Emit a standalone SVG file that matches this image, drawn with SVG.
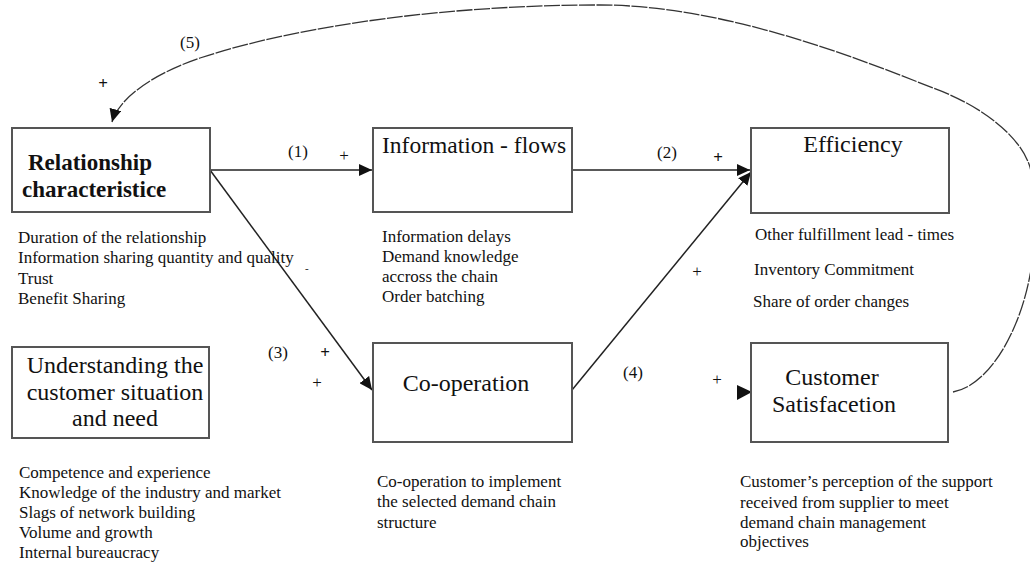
<svg xmlns="http://www.w3.org/2000/svg" width="1030" height="563" viewBox="0 0 1030 563">
<style>
.box{fill:#fff;stroke:#555;stroke-width:2}
.t{font-family:'Liberation Serif','Times New Roman',Times,'DejaVu Serif',serif;fill:#111}
.big{font-size:24px}
.bold{font-weight:bold}
.sm{font-size:17px}
.lbl{font-size:17px}
.edge{fill:none;stroke:#222;stroke-width:1.5}
.curve{fill:none;stroke:#333;stroke-width:1.3;stroke-dasharray:16 1.5}
</style>
<defs>
<marker id="ah" markerUnits="userSpaceOnUse" markerWidth="14" markerHeight="12" refX="13" refY="6" orient="auto">
<path d="M0,0 L13,6 L0,12 z" fill="#111"/>
</marker>
</defs>
<rect width="1030" height="563" fill="#fff"/>

<g id="connectors">
<line class="edge" x1="210" y1="170" x2="372" y2="170" marker-end="url(#ah)"/>
<line class="edge" x1="572" y1="170" x2="750" y2="170" marker-end="url(#ah)"/>
<line class="edge" x1="210" y1="170" x2="372" y2="390" marker-end="url(#ah)"/>
<line class="edge" x1="572" y1="390" x2="751" y2="172" marker-end="url(#ah)"/>
<polygon points="737,385 752,392 737,400" fill="#111"/>
<path class="curve" d="M953,392 C990,385 1020,330 1030,275 C1038,240 1038,200 1030,167 C1020,135 980,105 933,88 C850,55 720,5 600,5 C450,5 300,25 200,58 C150,75 118,100 112,122" marker-end="url(#ah)"/>
<text class="t lbl" x="180" y="48">(5)</text>
<text class="t lbl bold" x="103" y="89" text-anchor="middle">+</text>
<text class="t lbl" x="288" y="157">(1)</text>
<text class="t lbl" x="344" y="161" text-anchor="middle">+</text>
<text class="t lbl" x="657" y="158">(2)</text>
<text class="t lbl bold" x="718" y="163" text-anchor="middle">+</text>
<text class="t lbl" x="697" y="277" text-anchor="middle">+</text>
<text class="t lbl" x="268" y="358">(3)</text>
<text class="t lbl bold" x="325" y="358" text-anchor="middle">+</text>
<text class="t lbl" x="317" y="388" text-anchor="middle">+</text>
<text class="t lbl" x="623" y="378">(4)</text>
<text class="t lbl" x="717" y="385" text-anchor="middle">+</text>
</g>

<g id="relationship">
<rect class="box" x="12" y="128" width="198" height="84"/>
<text class="t bold" font-size="23" x="28" y="170">Relationship</text>
<text class="t bold" font-size="23" x="22" y="197">characteristice</text>
<text class="t sm" x="18" y="243">Duration of the relationship</text>
<text class="t sm" x="18" y="263">Information sharing quantity and quality</text>
<text class="t" font-size="11" x="305" y="272">-</text>
<text class="t sm" x="18" y="284">Trust</text>
<text class="t sm" x="18" y="304">Benefit Sharing</text>
</g>

<g id="information">
<rect class="box" x="373" y="128" width="199" height="84"/>
<text class="t" font-size="23.5" x="382" y="153">Information - flows</text>
<text class="t sm" x="382" y="242">Information delays</text>
<text class="t sm" x="382" y="262">Demand knowledge</text>
<text class="t sm" x="382" y="282">accross the chain</text>
<text class="t sm" x="382" y="302">Order batching</text>
</g>

<g id="efficiency">
<rect class="box" x="751" y="128" width="198" height="85"/>
<text class="t big" x="853" y="152" text-anchor="middle">Efficiency</text>
<text class="t sm" x="755" y="240">Other fulfillment lead - times</text>
<text class="t sm" x="754" y="275">Inventory Commitment</text>
<text class="t sm" x="753" y="307">Share of order changes</text>
</g>

<g id="understanding">
<rect class="box" x="12" y="347" width="197" height="91"/>
<text class="t big" x="115" y="373" text-anchor="middle">Understanding the</text>
<text class="t big" x="115" y="400" text-anchor="middle">customer situation</text>
<text class="t big" x="115" y="426" text-anchor="middle">and need</text>
<text class="t sm" x="19" y="478">Competence and experience</text>
<text class="t sm" x="19" y="498">Knowledge of the industry and market</text>
<text class="t sm" x="19" y="518">Slags of network building</text>
<text class="t sm" x="19" y="538">Volume and growth</text>
<text class="t sm" x="19" y="558">Internal bureaucracy</text>
</g>

<g id="cooperation">
<rect class="box" x="373" y="343" width="199" height="99"/>
<text class="t big" x="466" y="391" text-anchor="middle">Co-operation</text>
<text class="t sm" x="377" y="487">Co-operation to implement</text>
<text class="t sm" x="377" y="507">the selected demand chain</text>
<text class="t sm" x="377" y="528">structure</text>
</g>

<g id="satisfaction">
<rect class="box" x="751" y="343" width="197" height="99"/>
<text class="t big" x="832" y="385" text-anchor="middle">Customer</text>
<text class="t big" x="834" y="412" text-anchor="middle">Satisfacetion</text>
<text class="t sm" x="740" y="487">Customer’s perception of the support</text>
<text class="t sm" x="740" y="508">received from supplier to meet</text>
<text class="t sm" x="740" y="528">demand chain management</text>
<text class="t sm" x="740" y="547">objectives</text>
</g>
</svg>
